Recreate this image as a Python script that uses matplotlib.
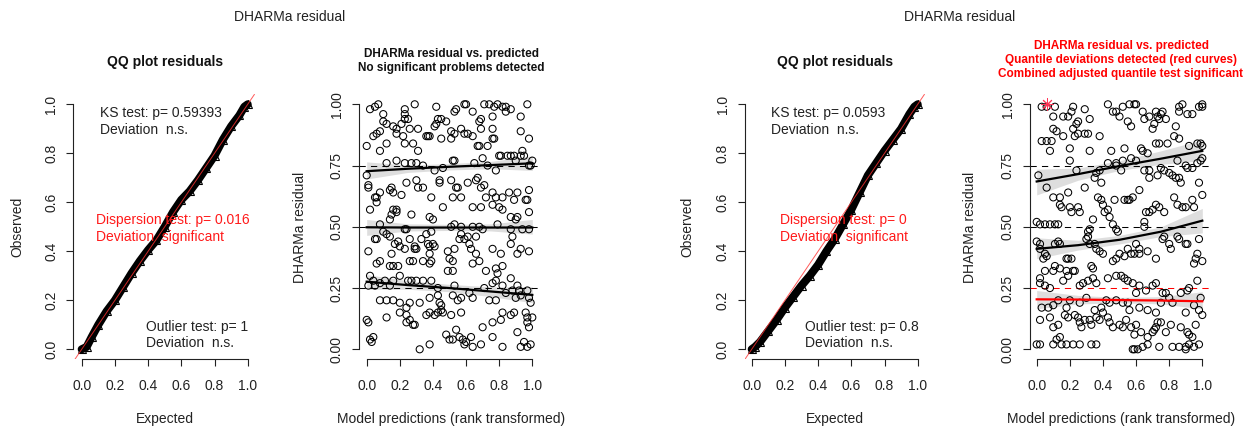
import matplotlib
matplotlib.use("Agg")
import matplotlib.pyplot as plt
from matplotlib import font_manager

plt.rcParams['font.family'] = ['Liberation Sans', 'DejaVu Sans']

W, H = 1249, 430
fig = plt.figure(figsize=(W / 100, H / 100), dpi=100)

# ---------------- data ----------------
qq1_expected = [0.0, 0.03, 0.06, 0.10, 0.15, 0.20, 0.25, 0.30, 0.35, 0.40, 0.45, 0.50,
                0.55, 0.60, 0.65, 0.70, 0.75, 0.80, 0.85, 0.90, 0.95, 0.98, 1.0]
qq1_observed = [0.0, 0.01, 0.05, 0.10, 0.155, 0.20, 0.255, 0.31, 0.36, 0.405, 0.445, 0.50,
                0.56, 0.61, 0.645, 0.69, 0.74, 0.79, 0.855, 0.91, 0.955, 0.99, 1.0]
qq2_expected = [0.0, 0.02, 0.05, 0.10, 0.15, 0.20, 0.25, 0.30, 0.35, 0.40, 0.45, 0.50,
                0.55, 0.60, 0.65, 0.70, 0.75, 0.80, 0.85, 0.90, 0.95, 0.98, 1.0]
qq2_observed = [0.0, 0.01, 0.03, 0.075, 0.12, 0.17, 0.215, 0.26, 0.30, 0.345, 0.40, 0.45,
                0.51, 0.57, 0.64, 0.71, 0.76, 0.81, 0.855, 0.90, 0.96, 0.99, 1.0]

res1_x = [0.02, 0.07, 0.05, 0.23, 0.23, 0.29, 0.42, 0.53, 0.54, 0.59, 0.60, 0.64, 0.71, 0.74, 0.77, 0.79,
          0.82, 0.84, 0.84, 0.87, 0.97, 0.93, 0.76,
          0.10, 0.10, 0.12, 0.08, 0.16, 0.18, 0.21, 0.23, 0.25, 0.26, 0.31, 0.37, 0.41, 0.42, 0.43, 0.45,
          0.48, 0.51, 0.53, 0.57, 0.61, 0.68, 0.69, 0.69, 0.77, 0.76, 0.93,
          0.00, 0.04, 0.06, 0.08, 0.12, 0.18, 0.22, 0.23, 0.28, 0.31, 0.36, 0.38, 0.45, 0.51, 0.59, 0.64,
          0.67, 0.68, 0.73, 0.76, 0.80, 0.81, 0.85, 0.87, 0.94, 0.95, 0.98,
          0.12, 0.18, 0.23, 0.27, 0.30, 0.34, 0.41, 0.46, 0.52, 0.53, 0.65, 0.70, 0.73, 0.78, 0.89, 0.90,
          0.93, 0.98, 0.99, 1.00, 0.00,
          0.01, 0.01, 0.05, 0.06, 0.08, 0.14, 0.15, 0.16, 0.21, 0.24, 0.30, 0.31, 0.34, 0.39, 0.44, 0.44,
          0.51, 0.54, 0.55, 0.52, 0.57, 0.61, 0.66, 0.67, 0.69, 0.71, 0.72, 0.76, 0.78, 0.82, 0.86, 0.89,
          0.91, 0.98, 0.96,
          0.02, 0.06, 0.14, 0.15, 0.16, 0.18, 0.18, 0.27, 0.38, 0.40, 0.46, 0.53, 0.64, 0.69, 0.76, 0.80,
          0.82, 0.87, 0.91, 0.90, 0.97, 0.98,
          0.08, 0.10, 0.12, 0.14, 0.23, 0.24, 0.39, 0.51, 0.57, 0.64, 0.68, 0.70, 0.79, 0.87, 0.94, 0.98,
          0.01, 0.05, 0.06, 0.08, 0.15, 0.17, 0.19, 0.20, 0.23, 0.26, 0.29, 0.29, 0.30, 0.33, 0.36, 0.37,
          0.38, 0.38, 0.40, 0.41, 0.49, 0.50, 0.52, 0.53, 0.56, 0.57, 0.59, 0.61, 0.62, 0.63, 0.66, 0.66,
          0.68, 0.72, 0.76, 0.81, 0.87, 0.88, 0.91, 0.93, 0.98,
          0.06, 0.14, 0.16, 0.19, 0.26, 0.28, 0.34, 0.38, 0.39, 0.64, 0.82,
          0.02, 0.04, 0.05, 0.08, 0.11, 0.14, 0.16, 0.20, 0.25, 0.27, 0.30, 0.34, 0.39, 0.49, 0.52, 0.53,
          0.62, 0.71, 0.78, 0.79, 0.87, 0.91, 0.76, 0.78,
          0.01, 0.43, 0.82, 0.88, 0.92, 0.97,
          0.08, 0.12, 0.16, 0.20, 0.24, 0.26, 0.32, 0.38, 0.43, 0.44, 0.45, 0.52, 0.55, 0.57, 0.64, 0.74,
          0.78, 0.84, 0.90, 0.93, 0.98, 0.99,
          0.00, 0.01, 0.12, 0.20, 0.24, 0.24, 0.26, 0.28, 0.29, 0.36, 0.38, 0.41, 0.43, 0.45, 0.46, 0.51,
          0.57, 0.76, 0.81, 0.82, 0.87, 0.89, 0.96, 0.97, 0.97, 1.00, 0.98,
          0.02, 0.03, 0.04, 0.32, 0.38, 0.48, 0.50, 0.52, 0.54, 0.56, 0.58, 0.59, 0.60, 0.63, 0.64, 0.69,
          0.70, 0.76, 0.82, 0.91, 0.93, 0.95, 0.97, 0.99]
res1_y = [0.98, 1.00, 0.99, 0.98, 0.96, 1.00, 0.99, 0.97, 0.98, 1.00, 1.00, 0.97, 1.00, 1.00, 0.99, 1.00,
          0.99, 0.97, 0.99, 0.98, 1.00, 0.95, 0.95,
          0.96, 0.93, 0.92, 0.89, 0.91, 0.90, 0.92, 0.94, 0.94, 0.90, 0.90, 0.87, 0.91, 0.92, 0.94, 0.94,
          0.93, 0.89, 0.88, 0.90, 0.88, 0.93, 0.94, 0.90, 0.86, 0.90, 0.89,
          0.83, 0.87, 0.88, 0.81, 0.84, 0.88, 0.87, 0.84, 0.84, 0.81, 0.87, 0.87, 0.86, 0.86, 0.88, 0.87,
          0.83, 0.83, 0.83, 0.86, 0.79, 0.79, 0.79, 0.79, 0.81, 0.79, 0.86,
          0.76, 0.77, 0.76, 0.76, 0.76, 0.75, 0.73, 0.74, 0.77, 0.77, 0.76, 0.78, 0.75, 0.73, 0.79, 0.77,
          0.79, 0.75, 0.75, 0.77, 0.71,
          0.67, 0.66, 0.62, 0.62, 0.64, 0.65, 0.66, 0.64, 0.63, 0.68, 0.69, 0.66, 0.66, 0.62, 0.68, 0.69,
          0.69, 0.66, 0.66, 0.62, 0.62, 0.68, 0.69, 0.70, 0.66, 0.67, 0.62, 0.64, 0.62, 0.62, 0.64, 0.61,
          0.64, 0.65, 0.61,
          0.57, 0.60, 0.53, 0.55, 0.57, 0.57, 0.56, 0.55, 0.54, 0.53, 0.58, 0.51, 0.58, 0.58, 0.59, 0.58,
          0.57, 0.54, 0.54, 0.53, 0.61, 0.56,
          0.51, 0.48, 0.47, 0.46, 0.49, 0.49, 0.48, 0.50, 0.50, 0.50, 0.50, 0.49, 0.51, 0.49, 0.49, 0.49,
          0.40, 0.45, 0.45, 0.36, 0.39, 0.43, 0.44, 0.42, 0.41, 0.45, 0.42, 0.41, 0.41, 0.45, 0.47, 0.43,
          0.42, 0.39, 0.43, 0.42, 0.40, 0.37, 0.36, 0.41, 0.45, 0.47, 0.45, 0.46, 0.43, 0.41, 0.46, 0.39,
          0.36, 0.32, 0.41, 0.39, 0.43, 0.46, 0.39, 0.41, 0.40,
          0.35, 0.34, 0.34, 0.34, 0.36, 0.36, 0.36, 0.35, 0.36, 0.35, 0.34,
          0.30, 0.28, 0.26, 0.27, 0.28, 0.26, 0.28, 0.30, 0.28, 0.28, 0.28, 0.28, 0.28, 0.32, 0.32, 0.26,
          0.23, 0.25, 0.33, 0.31, 0.29, 0.26, 0.27, 0.28,
          0.26, 0.25, 0.26, 0.24, 0.24, 0.24,
          0.20, 0.20, 0.20, 0.19, 0.17, 0.19, 0.19, 0.21, 0.22, 0.19, 0.18, 0.22, 0.20, 0.21, 0.21, 0.20,
          0.20, 0.23, 0.21, 0.22, 0.21, 0.19,
          0.12, 0.11, 0.13, 0.15, 0.14, 0.11, 0.12, 0.10, 0.10, 0.14, 0.15, 0.14, 0.15, 0.16, 0.15, 0.14,
          0.15, 0.11, 0.12, 0.15, 0.14, 0.15, 0.15, 0.13, 0.11, 0.13, 0.09,
          0.04, 0.03, 0.05, 0.00, 0.02, 0.06, 0.04, 0.04, 0.08, 0.05, 0.04, 0.02, 0.03, 0.05, 0.01, 0.02,
          0.09, 0.05, 0.01, 0.07, 0.01, 0.03, 0.01, 0.02]

res2_x = [0.03, 0.06, 0.11, 0.22, 0.29, 0.43, 0.52, 0.56, 0.60, 0.59, 0.72, 0.75, 0.76, 0.86, 0.88, 0.86,
          0.91, 0.94, 1.00, 1.00, 0.10, 0.16, 0.19, 0.21, 0.24, 0.25, 0.32, 0.46, 0.48, 0.50, 0.55, 0.57,
          0.64, 0.65, 0.68, 0.70, 0.71, 0.74, 0.73, 0.78, 0.84, 0.98,
          0.10, 0.12, 0.16, 0.22, 0.23, 0.25, 0.29, 0.31, 0.38, 0.03, 0.06, 0.09, 0.08, 0.20, 0.32, 0.45,
          0.53, 0.63, 0.64, 0.67, 0.72, 0.74, 0.79, 0.83, 0.86, 0.92, 0.97, 0.99, 1.00,
          0.01, 0.06, 0.10, 0.14, 0.14, 0.20, 0.24, 0.29, 0.35, 0.36, 0.38, 0.39, 0.43, 0.48, 0.48, 0.51,
          0.52, 0.57, 0.60, 0.65, 0.68, 0.73, 0.75, 0.77, 0.80, 0.82, 0.84, 0.85, 0.86, 0.87, 0.90, 0.94,
          0.97, 0.98, 0.99, 1.00, 0.91, 0.62, 0.68,
          0.15, 0.19, 0.20, 0.21, 0.25, 0.26, 0.34, 0.37, 0.39, 0.40, 0.41, 0.43, 0.44, 0.47, 0.53, 0.55,
          0.56, 0.58, 0.65, 0.66, 0.68, 0.70, 0.72, 0.74, 0.77, 0.83, 0.85, 0.88, 0.90, 0.94, 0.95, 1.00,
          0.00, 0.02, 0.05, 0.08, 0.11, 0.13, 0.31, 0.32, 0.46, 0.48, 0.49, 0.65,
          0.00, 0.02, 0.02, 0.05, 0.06, 0.11, 0.13, 0.14, 0.18, 0.19, 0.21, 0.30, 0.31, 0.32, 0.35, 0.36,
          0.38, 0.40, 0.46, 0.48, 0.50, 0.53, 0.55, 0.57, 0.59, 0.60, 0.62, 0.62, 0.67, 0.72, 0.76, 0.77,
          0.80, 0.81, 0.85, 0.86, 0.90, 0.91, 0.95, 0.96, 0.97, 0.98, 1.00, 0.04, 0.33, 0.34,
          0.02, 0.05, 0.10, 0.11, 0.14, 0.16, 0.18, 0.19, 0.22, 0.23, 0.26, 0.28, 0.31, 0.34, 0.36, 0.43,
          0.48, 0.51, 0.53, 0.55, 0.58, 0.62, 0.66, 0.70, 0.72, 0.76, 0.80, 0.87, 0.92, 0.97, 0.99,
          0.02, 0.05, 0.08, 0.03, 0.07, 0.10, 0.13, 0.18, 0.20, 0.26, 0.30, 0.35, 0.39, 0.42, 0.44, 0.48,
          0.52, 0.55, 0.56, 0.60, 0.62, 0.67, 0.72, 0.75, 0.78, 0.82, 0.91, 0.95, 0.98,
          0.02, 0.08, 0.10, 0.13, 0.17, 0.19, 0.23, 0.25, 0.26, 0.27, 0.29, 0.32, 0.33, 0.36, 0.38, 0.40,
          0.43, 0.44, 0.46, 0.50, 0.52, 0.54, 0.57, 0.59, 0.60, 0.63, 0.67, 0.70, 0.71, 0.72, 0.73, 0.75,
          0.78, 0.81, 0.87, 0.90, 0.91, 0.92, 0.94, 0.96, 1.00,
          0.00, 0.02, 0.10, 0.15, 0.18, 0.22, 0.26, 0.33, 0.36, 0.58, 0.59, 0.61, 0.64, 0.67, 0.74, 0.82,
          0.86, 0.90, 0.90, 0.92, 0.95, 0.98, 0.12, 0.14]
res2_y = [0.99, 0.99, 0.99, 0.99, 0.98, 1.00, 0.99, 1.00, 1.00, 1.00, 0.97, 0.96, 0.97, 0.99, 1.00, 0.97,
          0.96, 0.96, 1.00, 0.99, 0.95, 0.95, 0.95, 0.97, 0.92, 0.93, 0.94, 0.97, 0.97, 0.95, 0.93, 0.91,
          0.97, 0.94, 0.95, 0.90, 0.92, 0.94, 0.95, 0.94, 0.91, 0.99,
          0.90, 0.89, 0.87, 0.90, 0.87, 0.88, 0.88, 0.88, 0.87, 0.85, 0.85, 0.85, 0.81, 0.82, 0.81, 0.81,
          0.82, 0.82, 0.81, 0.80, 0.84, 0.84, 0.84, 0.87, 0.86, 0.83, 0.84, 0.84, 0.83,
          0.71, 0.66, 0.62, 0.62, 0.59, 0.77, 0.73, 0.66, 0.70, 0.72, 0.73, 0.68, 0.76, 0.76, 0.75, 0.73,
          0.77, 0.78, 0.77, 0.73, 0.73, 0.71, 0.74, 0.73, 0.72, 0.71, 0.70, 0.77, 0.70, 0.68, 0.75, 0.74,
          0.76, 0.68, 0.77, 0.78, 0.74, 0.65, 0.70,
          0.58, 0.64, 0.58, 0.56, 0.58, 0.56, 0.53, 0.62, 0.61, 0.59, 0.56, 0.57, 0.54, 0.61, 0.61, 0.61,
          0.61, 0.62, 0.52, 0.56, 0.56, 0.57, 0.59, 0.58, 0.56, 0.62, 0.59, 0.58, 0.58, 0.61, 0.58, 0.63,
          0.52, 0.51, 0.51, 0.51, 0.51, 0.51, 0.48, 0.49, 0.51, 0.49, 0.48, 0.50,
          0.44, 0.43, 0.41, 0.39, 0.38, 0.43, 0.44, 0.43, 0.37, 0.37, 0.37, 0.45, 0.46, 0.43, 0.43, 0.41,
          0.40, 0.39, 0.36, 0.37, 0.39, 0.38, 0.41, 0.39, 0.39, 0.43, 0.41, 0.39, 0.40, 0.37, 0.45, 0.46,
          0.43, 0.41, 0.46, 0.45, 0.43, 0.43, 0.35, 0.37, 0.39, 0.45, 0.36, 0.37, 0.34, 0.33,
          0.29, 0.32, 0.32, 0.34, 0.33, 0.28, 0.32, 0.30, 0.32, 0.32, 0.26, 0.27, 0.28, 0.29, 0.27, 0.29,
          0.30, 0.30, 0.29, 0.28, 0.27, 0.26, 0.24, 0.26, 0.27, 0.23, 0.21, 0.23, 0.25, 0.28, 0.21,
          0.27, 0.26, 0.25, 0.17, 0.17, 0.18, 0.20, 0.17, 0.20, 0.19, 0.21, 0.16, 0.17, 0.20, 0.19, 0.20,
          0.19, 0.19, 0.16, 0.23, 0.17, 0.16, 0.15, 0.19, 0.23, 0.19, 0.24, 0.18, 0.16,
          0.12, 0.13, 0.09, 0.10, 0.14, 0.13, 0.14, 0.13, 0.11, 0.09, 0.12, 0.12, 0.10, 0.13, 0.12, 0.15,
          0.13, 0.11, 0.09, 0.10, 0.09, 0.12, 0.09, 0.06, 0.10, 0.07, 0.05, 0.07, 0.08, 0.09, 0.11, 0.11,
          0.07, 0.10, 0.09, 0.15, 0.07, 0.06, 0.05, 0.10, 0.14,
          0.02, 0.02, 0.02, 0.02, 0.02, 0.02, 0.02, 0.02, 0.02, 0.00, 0.00, 0.00, 0.01, 0.02, 0.01, 0.01,
          0.01, 0.01, 0.00, 0.02, 0.01, 0.02, 0.04, 0.05]

outlier2_x = [0.065]
outlier2_y = [1.0]

# quantile regression curves (x grid, fitted value, CI)
qgrid = [0.0, 0.25, 0.5, 0.75, 1.0]
res1_q25 = [0.276, 0.262, 0.250, 0.236, 0.222]
res1_q25_lo = [0.245, 0.245, 0.235, 0.215, 0.190]
res1_q25_hi = [0.305, 0.280, 0.265, 0.255, 0.255]
res1_q50 = [0.498, 0.497, 0.497, 0.497, 0.497]
res1_q50_lo = [0.465, 0.483, 0.485, 0.483, 0.470]
res1_q50_hi = [0.530, 0.512, 0.510, 0.512, 0.530]
res1_q75 = [0.727, 0.737, 0.745, 0.752, 0.759]
res1_q75_lo = [0.695, 0.722, 0.732, 0.737, 0.730]
res1_q75_hi = [0.765, 0.752, 0.758, 0.767, 0.790]

res2_q25 = [0.204, 0.203, 0.201, 0.199, 0.196]
res2_q25_lo = [0.165, 0.185, 0.190, 0.185, 0.165]
res2_q25_hi = [0.240, 0.220, 0.212, 0.215, 0.235]
res2_q50 = [0.410, 0.425, 0.447, 0.480, 0.525]
res2_q50_lo = [0.370, 0.405, 0.430, 0.460, 0.475]
res2_q50_hi = [0.455, 0.445, 0.465, 0.500, 0.575]
res2_q75 = [0.685, 0.715, 0.748, 0.778, 0.810]
res2_q75_lo = [0.630, 0.690, 0.730, 0.755, 0.770]
res2_q75_hi = [0.735, 0.740, 0.770, 0.810, 0.855]

qq_ticks = [0.0, 0.2, 0.4, 0.6, 0.8, 1.0]
qq_ticklabels = ["0.0", "0.2", "0.4", "0.6", "0.8", "1.0"]
res_yticks = [0.0, 0.25, 0.5, 0.75, 1.0]
res_yticklabels = ["0.00", "0.25", "0.50", "0.75", "1.00"]

left_texts = {"ks": "KS test: p= 0.59393\nDeviation  n.s.",
              "disp": "Dispersion test: p= 0.016\nDeviation  significant",
              "out": "Outlier test: p= 1\nDeviation  n.s."}
right_texts = {"ks": "KS test: p= 0.0593\nDeviation  n.s.",
               "disp": "Dispersion test: p= 0\nDeviation  significant",
               "out": "Outlier test: p= 0.8\nDeviation  n.s."}

# ---------------- layout helpers ----------------
names = {f.name for f in font_manager.fontManager.ttflist}
if 'Liberation Sans Narrow' in names:
    title_font = dict(family=['Liberation Sans Narrow', 'DejaVu Sans'], fontsize=10)
else:
    title_font = dict(family=['Liberation Sans', 'DejaVu Sans'], fontsize=8.5)

Y0, Y1 = 349.3, 104.3
YLIM = (-0.041, 1.04)


def px(x, y):
    return x / W, 1 - y / H


def make_ax(x0, x1, xlim):
    sx = x1 - x0
    sy = Y0 - Y1
    left = x0 + xlim[0] * sx
    right = x0 + xlim[1] * sx
    bottom = Y0 - YLIM[0] * sy
    top = Y0 - YLIM[1] * sy
    ax = fig.add_axes([left / W, 1 - bottom / H, (right - left) / W, (bottom - top) / H])
    ax.set_xlim(xlim)
    ax.set_ylim(YLIM)
    ax.patch.set_alpha(0)
    for s in ("top", "right"):
        ax.spines[s].set_visible(False)
    for s in ("left", "bottom"):
        ax.spines[s].set_bounds(0, 1)
        ax.spines[s].set_linewidth(0.8)
        ax.spines[s].set_color("#222222")
    ax.tick_params(direction="out", length=5, width=0.8, colors="#222222", labelsize=10)
    ax.tick_params(axis="x", pad=8.8)
    ax.tick_params(axis="y", pad=6.0)
    ax._geom = (left, right, top, bottom)
    return ax


def place_labels(ax, xlabel, ylabel, xl_px, yl_px):
    left, right, top, bottom = ax._geom
    ax.set_xlabel(xlabel, fontsize=10, color="#222222")
    ax.set_ylabel(ylabel, fontsize=10, color="#222222")
    ax.xaxis.set_label_coords((xl_px[0] - left) / (right - left), (bottom - xl_px[1]) / (bottom - top))
    ax.yaxis.set_label_coords((yl_px[0] - left) / (right - left), (bottom - yl_px[1]) / (bottom - top))
    ax.xaxis.label.set_va("center")
    ax.yaxis.label.set_va("center")
    ax.yaxis.label.set_ha("center")


def set_yticks(ax, ticks, labels):
    ax.set_yticks(ticks)
    ax.set_yticklabels(labels, rotation=90, va="center", ha="right")


def qq_panel(x0, x1, xlim, exp, obs, texts, txt_x):
    ax = make_ax(x0, x1, xlim)
    ax.plot(exp, obs, color="black", lw=5.8, solid_capstyle="round",
            marker="^", ms=5.5, mfc="none", mec="black", mew=0.8, zorder=2)
    ax.axline((0, 0), (1, 1), color="#ff3030", lw=0.7, alpha=0.8, zorder=3)
    ax.set_xticks(qq_ticks)
    ax.set_xticklabels(qq_ticklabels)
    set_yticks(ax, qq_ticks, qq_ticklabels)
    ax.text(txt_x[0], 0.930, texts["ks"], fontsize=10, color="#222222", ha="left", va="center",
            linespacing=1.2)
    ax.text(txt_x[1], 0.493, texts["disp"], fontsize=10, color="#ff1a1a", ha="left", va="center",
            linespacing=1.2)
    ax.text(txt_x[2], 0.058, texts["out"], fontsize=10, color="#222222", ha="left", va="center",
            linespacing=1.2)
    return ax


def res_panel(x0, x1, xlim, rx, ry, curves, low_red):
    ax = make_ax(x0, x1, xlim)
    ax.scatter(rx, ry, s=26, facecolors="none", edgecolors="black", linewidths=0.75, zorder=2)
    for i, (q, line, lo, hi) in enumerate(curves):
        col = "red" if (low_red and i == 0) else "black"
        ax.axhline(q, color=col, lw=0.75, ls=(0, (6, 5)), zorder=1)
        ax.fill_between(qgrid, lo, hi, color="black", alpha=0.13, lw=0, zorder=3)
        ax.plot(qgrid, line, color=col, lw=1.6, zorder=4)
    ax.set_xticks(qq_ticks)
    ax.set_xticklabels(qq_ticklabels)
    set_yticks(ax, res_yticks, res_yticklabels)
    return ax


# ---------------- panels ----------------
ax1 = qq_panel(81.7, 247.7, (-0.05, 1.05), qq1_expected, qq1_observed, left_texts, (0.11, 0.086, 0.387))
place_labels(ax1, "Expected", "Observed", (165, 419), (17, 227))
ax3 = qq_panel(751.7, 917.7, (-0.04, 1.05), qq2_expected, qq2_observed, right_texts, (0.114, 0.17, 0.321))
place_labels(ax3, "Expected", "Observed", (835, 419), (687, 227))

curves1 = [(0.25, res1_q25, res1_q25_lo, res1_q25_hi),
           (0.50, res1_q50, res1_q50_lo, res1_q50_hi),
           (0.75, res1_q75, res1_q75_lo, res1_q75_hi)]
curves2 = [(0.25, res2_q25, res2_q25_lo, res2_q25_hi),
           (0.50, res2_q50, res2_q50_lo, res2_q50_hi),
           (0.75, res2_q75, res2_q75_lo, res2_q75_hi)]
ax2 = res_panel(366.7, 532.3, (-0.045, 1.06), res1_x, res1_y, curves1, False)
place_labels(ax2, "Model predictions (rank transformed)", "DHARMa residual", (451, 419), (300, 227))
ax4 = res_panel(1036.7, 1202.3, (-0.04, 1.055), res2_x, res2_y, curves2, True)
ax4.plot(outlier2_x, outlier2_y, ls="none", marker=(4, 2, 0), ms=9, mew=0.7, color="#ff3355", zorder=5,
         clip_on=False)
ax4.plot(outlier2_x, outlier2_y, ls="none", marker=(4, 2, 45), ms=9, mew=0.7, color="#ff3355", zorder=5,
         clip_on=False)
place_labels(ax4, "Model predictions (rank transformed)", "DHARMa residual", (1121, 419), (970, 227))

# ---------------- titles ----------------
fig.text(*px(290, 17), "DHARMa residual", fontsize=10, ha="center", va="center", color="#222222")
fig.text(*px(960, 17), "DHARMa residual", fontsize=10, ha="center", va="center", color="#222222")
fig.text(*px(165, 62), "QQ plot residuals", fontsize=10, fontweight="bold", ha="center", va="center",
         color="#111111")
fig.text(*px(835, 62), "QQ plot residuals", fontsize=10, fontweight="bold", ha="center", va="center",
         color="#111111")
fig.text(*px(451, 61), "DHARMa residual vs. predicted\nNo significant problems detected",
         fontweight="bold", ha="center", va="center", color="#111111", linespacing=1.2, **title_font)
fig.text(*px(1121, 60), "DHARMa residual vs. predicted\nQuantile deviations detected (red curves)\n"
         "Combined adjusted quantile test significant",
         fontweight="bold", ha="center", va="center", color="#ff0000", linespacing=1.2, **title_font)

fig.savefig("out.png", dpi=100)
